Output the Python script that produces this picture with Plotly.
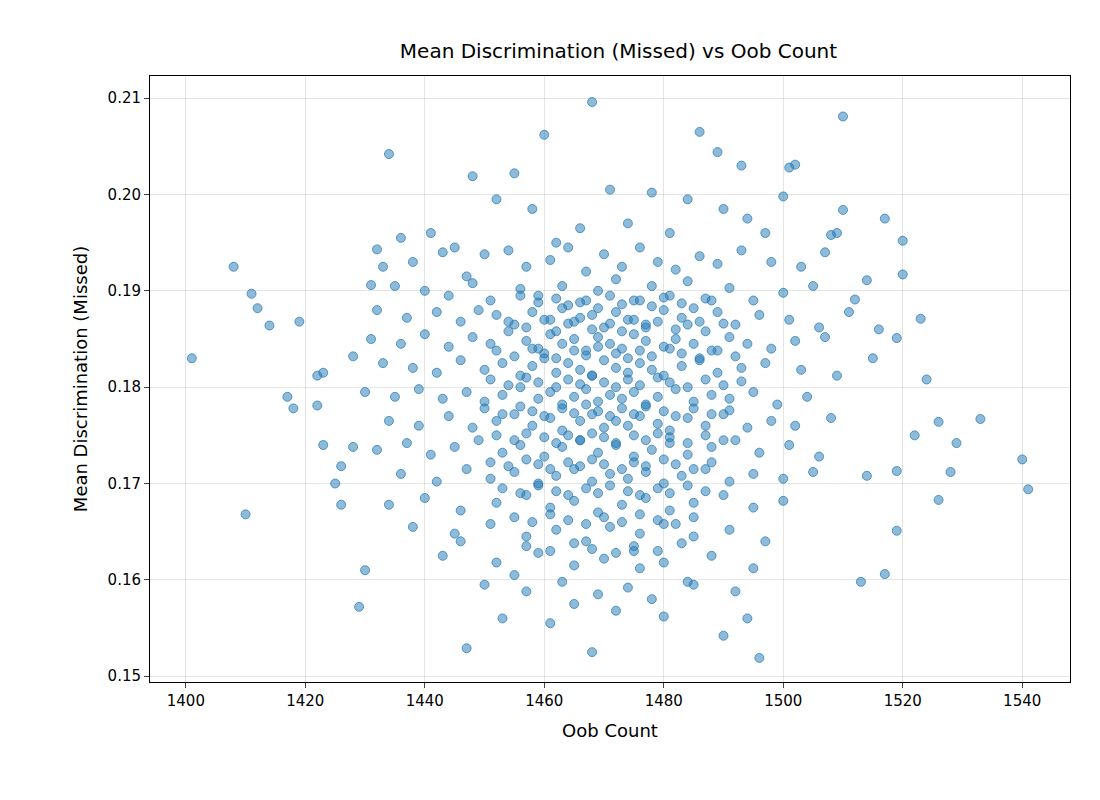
import plotly.graph_objects as go

# outlying points
oob_outer = [1401, 1408, 1411, 1412, 1414, 1419, 1417, 1418, 1410, 1422, 1423, 1422, 1423, 1425, 1426,
             1426, 1428, 1428, 1429, 1430, 1431, 1432, 1434, 1448, 1447, 1460, 1468, 1468, 1486, 1489,
             1493, 1496, 1501, 1502, 1510, 1510, 1517, 1520, 1520, 1523, 1522, 1524, 1526, 1526, 1528,
             1529, 1533, 1540, 1541, 1519, 1517, 1513, 1514, 1519, 1515, 1516, 1519, 1512, 1514, 1508, 1509]
disc_outer = [0.1830, 0.1925, 0.1897, 0.1882, 0.1864, 0.1868, 0.1790, 0.1778, 0.1668, 0.1812, 0.1815,
              0.1781, 0.1740, 0.1700, 0.1718, 0.1678, 0.1832, 0.1738, 0.1572, 0.1610, 0.1906, 0.1943,
              0.2042, 0.2019, 0.1529, 0.2062, 0.2096, 0.1525, 0.2065, 0.2044, 0.2030, 0.1519, 0.2028,
              0.2031, 0.2081, 0.1984, 0.1975, 0.1952, 0.1917, 0.1871, 0.1750, 0.1808, 0.1764, 0.1683,
              0.1712, 0.1742, 0.1767, 0.1725, 0.1694, 0.1651, 0.1606, 0.1598, 0.1708, 0.1713, 0.1830,
              0.1860, 0.1851, 0.1891, 0.1911, 0.1958, 0.1960]

# main cloud, estimated band by band
oob_cloud = [
    1436, 1441, 1445, 1452, 1455, 1458, 1462, 1466, 1471, 1474, 1478, 1481, 1484, 1490, 1494, 1497, 1500,
    1433, 1438, 1443, 1447, 1450, 1454, 1457, 1461, 1464, 1467, 1470, 1473, 1476, 1479, 1482, 1486, 1489, 1493, 1498, 1503, 1507,
    1435, 1440, 1444, 1448, 1451, 1456, 1459, 1463, 1466, 1469, 1472, 1475, 1478, 1481, 1484, 1487, 1491, 1495, 1500, 1505,
    1432, 1437, 1442, 1446, 1449, 1452, 1455, 1458, 1461, 1463, 1465, 1468, 1470, 1472, 1474, 1477, 1480, 1483, 1486, 1489, 1492, 1496, 1501, 1506, 1511,
    1431, 1436, 1440, 1444, 1448, 1451, 1454, 1457, 1459, 1461, 1463, 1465, 1467, 1469, 1471, 1473, 1475, 1477, 1480, 1482, 1485, 1488, 1491, 1494, 1498, 1502, 1507,
    1433, 1438, 1442, 1446, 1450, 1453, 1456, 1458, 1460, 1462, 1464, 1466, 1468, 1470, 1472, 1474, 1476, 1478, 1480, 1483, 1486, 1489, 1493, 1497, 1503, 1509,
    1430, 1435, 1439, 1443, 1447, 1450, 1453, 1456, 1459, 1461, 1463, 1465, 1467, 1469, 1471, 1473, 1475, 1477, 1479, 1482, 1485, 1488, 1491, 1495, 1499, 1504,
    1434, 1439, 1444, 1448, 1452, 1455, 1458, 1461, 1463, 1466, 1468, 1470, 1472, 1474, 1476, 1479, 1481, 1484, 1487, 1490, 1494, 1498, 1502, 1508,
    1432, 1437, 1441, 1445, 1449, 1453, 1456, 1460, 1463, 1466, 1469, 1472, 1475, 1478, 1481, 1484, 1488, 1492, 1496, 1501, 1506,
    1436, 1442, 1447, 1451, 1455, 1459, 1462, 1465, 1468, 1471, 1474, 1477, 1480, 1483, 1487, 1491, 1495, 1500, 1505,
    1434, 1440, 1446, 1452, 1457, 1461, 1465, 1469, 1473, 1477, 1481, 1485, 1490, 1495, 1500,
    1438, 1445, 1451, 1457, 1462, 1467, 1471, 1476, 1480, 1485, 1491, 1497,
    1443, 1452, 1459, 1465, 1470, 1475, 1480, 1488, 1495,
    1450, 1457, 1463, 1469, 1474, 1478, 1485, 1492,
    1453, 1461, 1472, 1480, 1490,
    1446, 1455, 1465, 1476, 1484, 1494,
]
disc_cloud = [
    0.1955, 0.1960, 0.1945, 0.1995, 0.2022, 0.1985, 0.1950, 0.1965, 0.2005, 0.1970, 0.2002, 0.1960, 0.1995, 0.1985, 0.1975, 0.1960, 0.1998,
    0.1925, 0.1930, 0.1940, 0.1915, 0.1938, 0.1942, 0.1925, 0.1932, 0.1945, 0.1920, 0.1938, 0.1925, 0.1945, 0.1930, 0.1922, 0.1936, 0.1928, 0.1942, 0.1930, 0.1925, 0.1940,
    0.1905, 0.1900, 0.1895, 0.1908, 0.1890, 0.1902, 0.1895, 0.1905, 0.1888, 0.1900, 0.1912, 0.1890, 0.1905, 0.1895, 0.1910, 0.1892, 0.1903, 0.1890, 0.1898, 0.1905,
    0.1880, 0.1872, 0.1878, 0.1868, 0.1880, 0.1875, 0.1865, 0.1878, 0.1870, 0.1882, 0.1868, 0.1875, 0.1862, 0.1878, 0.1870, 0.1865, 0.1880, 0.1872, 0.1868, 0.1878, 0.1865, 0.1875, 0.1870, 0.1862, 0.1878,
    0.1850, 0.1845, 0.1855, 0.1842, 0.1852, 0.1845, 0.1858, 0.1848, 0.1840, 0.1855, 0.1845, 0.1850, 0.1838, 0.1852, 0.1845, 0.1840, 0.1855, 0.1848, 0.1842, 0.1850, 0.1845, 0.1838, 0.1852, 0.1845, 0.1840, 0.1848, 0.1852,
    0.1825, 0.1820, 0.1815, 0.1828, 0.1818, 0.1825, 0.1812, 0.1822, 0.1830, 0.1815, 0.1825, 0.1818, 0.1812, 0.1828, 0.1820, 0.1815, 0.1825, 0.1818, 0.1812, 0.1822, 0.1828, 0.1815, 0.1820, 0.1825, 0.1818, 0.1812,
    0.1795, 0.1790, 0.1798, 0.1788, 0.1795, 0.1785, 0.1792, 0.1800, 0.1788, 0.1795, 0.1782, 0.1790, 0.1798, 0.1785, 0.1792, 0.1788, 0.1795, 0.1782, 0.1790, 0.1798, 0.1785, 0.1792, 0.1788, 0.1795, 0.1782, 0.1790,
    0.1765, 0.1760, 0.1770, 0.1758, 0.1765, 0.1772, 0.1760, 0.1768, 0.1755, 0.1765, 0.1772, 0.1758, 0.1765, 0.1760, 0.1770, 0.1762, 0.1755, 0.1768, 0.1760, 0.1772, 0.1758, 0.1765, 0.1760, 0.1768,
    0.1735, 0.1742, 0.1730, 0.1738, 0.1745, 0.1732, 0.1740, 0.1728, 0.1738, 0.1745, 0.1732, 0.1740, 0.1728, 0.1735, 0.1742, 0.1730, 0.1738, 0.1745, 0.1732, 0.1740, 0.1728,
    0.1710, 0.1702, 0.1715, 0.1705, 0.1712, 0.1700, 0.1708, 0.1715, 0.1702, 0.1710, 0.1705, 0.1712, 0.1700, 0.1708, 0.1715, 0.1702, 0.1710, 0.1705, 0.1712,
    0.1678, 0.1685, 0.1672, 0.1680, 0.1688, 0.1675, 0.1682, 0.1670, 0.1678, 0.1685, 0.1672, 0.1680, 0.1688, 0.1675, 0.1682,
    0.1655, 0.1648, 0.1658, 0.1645, 0.1652, 0.1640, 0.1655, 0.1648, 0.1658, 0.1645, 0.1652, 0.1640,
    0.1625, 0.1618, 0.1628, 0.1615, 0.1622, 0.1630, 0.1618, 0.1625, 0.1612,
    0.1595, 0.1588, 0.1598, 0.1585, 0.1592, 0.1580, 0.1595, 0.1588,
    0.1560, 0.1555, 0.1568, 0.1562, 0.1542,
    0.1640, 0.1605, 0.1575, 0.1612, 0.1598, 0.1560,
]

# dense core around 1455-1490 / 0.168-0.190, estimated
oob_core = [
    1456, 1459, 1462, 1464, 1467, 1469, 1471, 1473, 1476, 1478, 1480, 1483, 1485, 1488,
    1454, 1457, 1460, 1462, 1464, 1466, 1468, 1471, 1473, 1475, 1477, 1479, 1482, 1484, 1487, 1490,
    1452, 1455, 1458, 1460, 1462, 1465, 1467, 1469, 1472, 1474, 1476, 1478, 1481, 1483, 1486, 1489, 1492,
    1451, 1454, 1457, 1459, 1462, 1464, 1466, 1468, 1470, 1472, 1474, 1476, 1479, 1481, 1484, 1487, 1490, 1493,
    1450, 1453, 1456, 1458, 1460, 1463, 1465, 1467, 1469, 1471, 1473, 1475, 1477, 1480, 1482, 1485, 1488, 1491,
    1452, 1455, 1457, 1460, 1462, 1464, 1466, 1468, 1470, 1472, 1475, 1477, 1479, 1481, 1484, 1487, 1490,
    1451, 1454, 1457, 1459, 1461, 1464, 1466, 1468, 1470, 1473, 1475, 1477, 1480, 1482, 1485, 1488,
    1453, 1456, 1459, 1462, 1464, 1467, 1469, 1471, 1474, 1476, 1479, 1481, 1484, 1487,
    1455, 1458, 1461, 1464, 1467, 1470, 1473, 1476, 1479, 1482, 1485,
    1457, 1461, 1465, 1468, 1472, 1475, 1479, 1483,
]
disc_core = [
    0.1895, 0.1888, 0.1892, 0.1885, 0.1890, 0.1882, 0.1895, 0.1886, 0.1890, 0.1884, 0.1893, 0.1887, 0.1882, 0.1890,
    0.1868, 0.1862, 0.1870, 0.1858, 0.1866, 0.1872, 0.1860, 0.1866, 0.1858, 0.1870, 0.1862, 0.1868, 0.1860, 0.1865, 0.1858, 0.1866,
    0.1838, 0.1832, 0.1840, 0.1835, 0.1830, 0.1838, 0.1833, 0.1842, 0.1835, 0.1830, 0.1838, 0.1832, 0.1840, 0.1835, 0.1830, 0.1838, 0.1832,
    0.1808, 0.1802, 0.1810, 0.1805, 0.1800, 0.1808, 0.1803, 0.1812, 0.1805, 0.1800, 0.1808, 0.1802, 0.1810, 0.1805, 0.1800, 0.1808, 0.1802, 0.1806,
    0.1778, 0.1772, 0.1780, 0.1775, 0.1770, 0.1778, 0.1773, 0.1782, 0.1775, 0.1770, 0.1778, 0.1772, 0.1780, 0.1775, 0.1770, 0.1778, 0.1772, 0.1776,
    0.1750, 0.1745, 0.1752, 0.1748, 0.1742, 0.1750, 0.1745, 0.1752, 0.1748, 0.1742, 0.1750, 0.1745, 0.1752, 0.1748, 0.1742, 0.1750, 0.1745,
    0.1722, 0.1718, 0.1725, 0.1720, 0.1715, 0.1722, 0.1718, 0.1725, 0.1720, 0.1715, 0.1722, 0.1718, 0.1725, 0.1720, 0.1715, 0.1722,
    0.1695, 0.1690, 0.1698, 0.1692, 0.1688, 0.1695, 0.1690, 0.1698, 0.1692, 0.1688, 0.1695, 0.1690, 0.1698, 0.1692,
    0.1665, 0.1660, 0.1668, 0.1662, 0.1658, 0.1665, 0.1660, 0.1668, 0.1662, 0.1658, 0.1665,
    0.1635, 0.1630, 0.1638, 0.1632, 0.1628, 0.1635, 0.1630, 0.1638,
]

oob = oob_outer + oob_cloud + oob_core
disc = disc_outer + disc_cloud + disc_core

fig = go.Figure(go.Scatter(
    x=oob, y=disc, mode="markers",
    marker=dict(size=9, color="rgba(31,119,180,0.5)",
                line=dict(color="rgba(31,119,180,0.7)", width=1)),
))

fig.update_layout(
    title=dict(text="Mean Discrimination (Missed) vs Oob Count", x=0.555, y=0.955,
               font=dict(size=20, color="black")),
    font=dict(family="DejaVu Sans", size=15, color="black"),
    width=1100, height=800,
    plot_bgcolor="white", paper_bgcolor="white",
    margin=dict(l=142, r=38, t=68, b=126),
    showlegend=False,
)
fig.update_xaxes(title_text="Oob Count", range=[1394, 1548], dtick=20,
                 showline=True, linecolor="black", mirror=True, ticks="outside",
                 showgrid=True, gridcolor="rgba(0,0,0,0.1)", zeroline=False)
fig.update_yaxes(title_text="Mean Discrimination (Missed)", range=[0.1494, 0.2123],
                 dtick=0.01, tickformat=".2f",
                 showline=True, linecolor="black", mirror=True, ticks="outside",
                 showgrid=True, gridcolor="rgba(0,0,0,0.1)", zeroline=False)

fig.write_html("out.html")
